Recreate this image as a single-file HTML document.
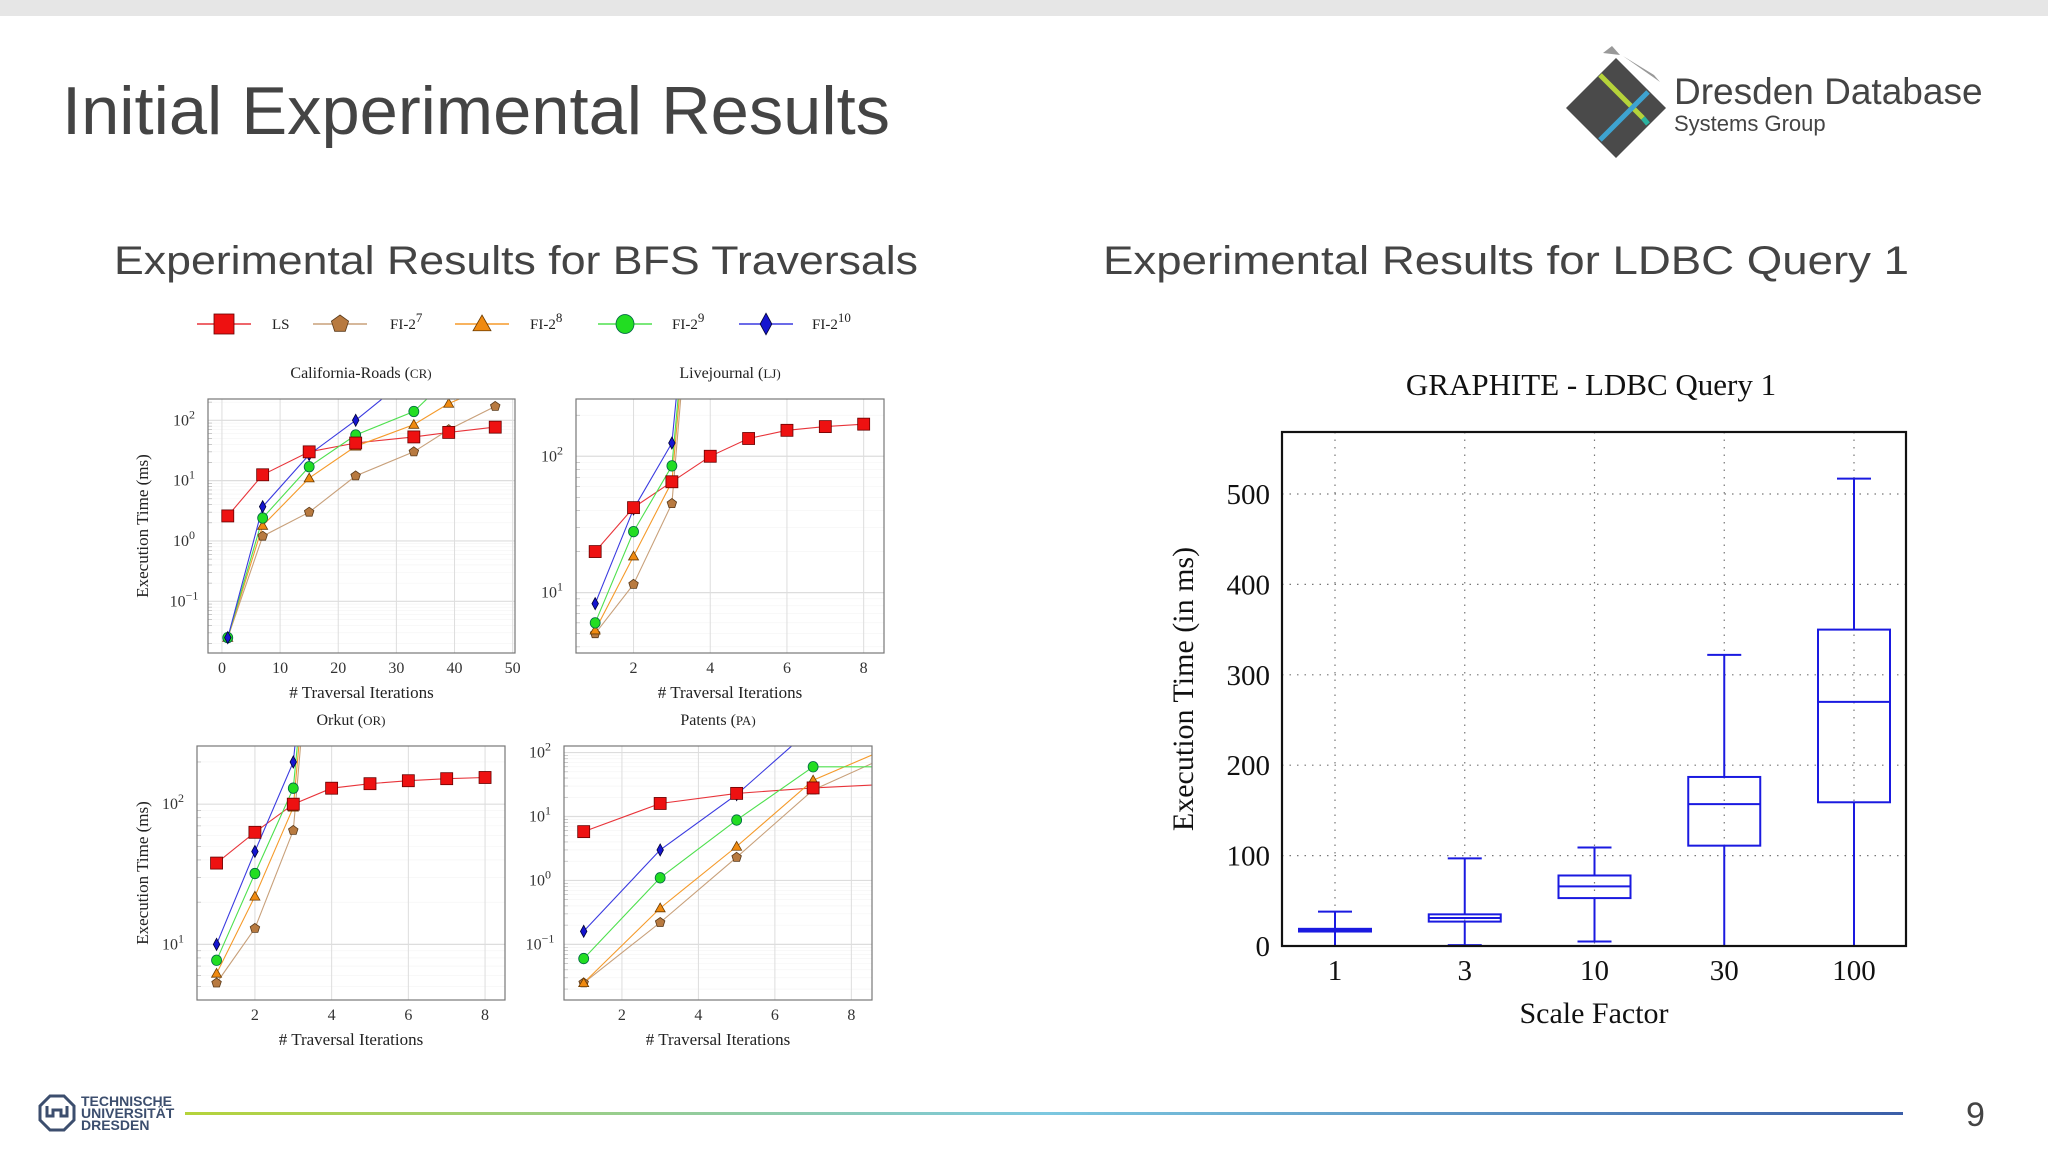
<!DOCTYPE html>
<html><head><meta charset="utf-8"><style>
html,body{margin:0;padding:0;background:#fff;}
svg{display:block;}
</style></head><body>
<svg id="s" width="2048" height="1152" viewBox="0 0 2048 1152" xmlns="http://www.w3.org/2000/svg">
<defs>
<linearGradient id="fg" x1="0" x2="1" y1="0" y2="0">
<stop offset="0" stop-color="#b5d33a"/><stop offset="0.5" stop-color="#7cc8e0"/><stop offset="1" stop-color="#3b5ea8"/>
</linearGradient>
</defs>
<rect x="0" y="0" width="2048" height="16" fill="#e6e6e6"/>
<text x="62" y="134" font-family="Liberation Sans, sans-serif" font-size="68" fill="#444" textLength="828" lengthAdjust="spacingAndGlyphs">Initial Experimental Results</text>
<g>
<polygon points="1616,58 1666,108 1616,158 1566,108" fill="#4a4a4a"/>
<polygon points="1603,53 1612,46 1620,55" fill="#999"/>
<polygon points="1623,56 1654,75 1660,82" fill="#999"/>
<line x1="1600" y1="75" x2="1643" y2="118" stroke="#b5d33a" stroke-width="5"/>
<line x1="1643" y1="118" x2="1648" y2="124" stroke="#2bb3a0" stroke-width="5"/>
<line x1="1600" y1="140" x2="1648" y2="92" stroke="#3ea3d0" stroke-width="5"/>
<text x="1674" y="104" font-family="Liberation Sans, sans-serif" font-size="37" fill="#444">Dresden Database</text>
<text x="1674" y="131" font-family="Liberation Sans, sans-serif" font-size="22" fill="#444">Systems Group</text>
</g>
<text x="114" y="274" font-family="Liberation Sans, sans-serif" font-size="40" fill="#444" textLength="804" lengthAdjust="spacingAndGlyphs">Experimental Results for BFS Traversals</text>
<text x="1103" y="274" font-family="Liberation Sans, sans-serif" font-size="40" fill="#444" textLength="806" lengthAdjust="spacingAndGlyphs">Experimental Results for LDBC Query 1</text>
<g>
<polygon points="50,1096 64,1096 74,1106 74,1120 64,1130 50,1130 40,1120 40,1106" fill="none" stroke="#3c4e6e" stroke-width="3"/>
<path d="M47,1106 v10 h6 v-6 h8 v6 h6 v-10" fill="none" stroke="#3c4e6e" stroke-width="3"/>
<text x="81" y="1106" font-family="Liberation Sans, sans-serif" font-weight="bold" font-size="14" fill="#3c4e6e">TECHNISCHE</text>
<text x="81" y="1118" font-family="Liberation Sans, sans-serif" font-weight="bold" font-size="14" fill="#3c4e6e">UNIVERSITÄT</text>
<text x="81" y="1130" font-family="Liberation Sans, sans-serif" font-weight="bold" font-size="14" fill="#3c4e6e">DRESDEN</text>
</g>
<rect x="185" y="1112" width="1718" height="3" fill="url(#fg)"/>
<text x="1966" y="1126" font-family="Liberation Sans, sans-serif" font-size="34" fill="#444">9</text>
</svg>
<script>
// ---- BFS data ----
const seriesNames = ["LS","FI-2^7","FI-2^8","FI-2^9","FI-2^10"];
const crX = [1,7,15,23,33,39,47];
const crLS = [2.6,12.5,30,42,53,63,77];
const crF7 = [0.025,1.2,3,12,30,70,170];
const crF8 = [0.025,1.8,11,37,85,190,400];
const crF9 = [0.025,2.4,17,57,140,500,null];
const crF10 = [0.025,3.7,27,100,600,null,null];
const ljX = [1,2,3,4,5,6,7,8];
const ljLS = [20,42,65,100,135,155,165,172];
const ljF7 = [5,11.5,45,100000,null,null,null,null];
const ljF8 = [5.3,18.5,65,100000,null,null,null,null];
const ljF9 = [6,28,85,100000,null,null,null,null];
const ljF10 = [8.3,41,125,100000,null,null,null,null];
const orX = [1,2,3,4,5,6,7,8];
const orLS = [38,63,100,130,140,147,152,155];
const orF7 = [5.3,13,65,100000,null,null,null,null];
const orF8 = [6.2,22,95,100000,null,null,null,null];
const orF9 = [7.7,32,130,100000,null,null,null,null];
const orF10 = [10,46,200,100000,null,null,null,null];
const paX = [1,3,5,7,9];
const paLS = [5.8,16,23,28,32];
const paF7 = [0.025,0.22,2.3,26,90];
const paF8 = [0.025,0.37,3.4,37,120];
const paF9 = [0.06,1.1,8.8,60,60];
const paF10 = [0.16,3,22,250,null];
// ---- LDBC box data ----
const sfCats = ["1","3","10","30","100"];
const boxMin = [0,1,5,0,0];
const boxQ1 = [16,27,53,111,159];
const boxMed = [17.5,31,66,157,270];
const boxQ3 = [19,35,78,187,350];
const boxMax = [38,97,109,322,517];
const yTicks = [0,100,200,300,400,500];

const NS="http://www.w3.org/2000/svg";
const svg=document.getElementById('s');
function el(tag,attrs,parent){const e=document.createElementNS(NS,tag);for(const k in attrs)e.setAttribute(k,attrs[k]);(parent||svg).appendChild(e);return e;}
const colors=["#e8343a","#c8a07a","#f59a2a","#4ee04e","#3a3ae0"];
const fills=["#ee1111","#b87a40","#f08a10","#22dd22","#1515d0"];
const SERIF="Liberation Serif, serif";

function marker(g,type,x,y,s){
  let m;
  if(type===0) m=el('rect',{x:x-s,y:y-s,width:2*s,height:2*s,fill:fills[0],stroke:"#600",'stroke-width':0.8},g);
  else if(type===1){let p=[];for(let i=0;i<5;i++){const a=-Math.PI/2+i*2*Math.PI/5;p.push((x+s*Math.cos(a)).toFixed(1)+","+(y+s*Math.sin(a)).toFixed(1));}m=el('polygon',{points:p.join(' '),fill:fills[1],stroke:"#5a3a1a",'stroke-width':0.8},g);}
  else if(type===2) m=el('polygon',{points:`${x},${y-s} ${x+s},${y+s*0.75} ${x-s},${y+s*0.75}`,fill:fills[2],stroke:"#6a3a00",'stroke-width':0.8},g);
  else if(type===3) m=el('ellipse',{cx:x,cy:y,rx:s,ry:s*1.05,fill:fills[3],stroke:"#064",'stroke-width':0.8},g);
  else m=el('polygon',{points:`${x},${y-s*1.2} ${x+s*0.65},${y} ${x},${y+s*1.2} ${x-s*0.65},${y}`,fill:fills[4],stroke:"#003",'stroke-width':0.8},g);
  return m;
}

// legend
const lg=el('g',{});


const legX=[224,340,482,625,766], legLX=[272,390,530,672,812];
const legLabels=[["LS",""],["FI-2","7"],["FI-2","8"],["FI-2","9"],["FI-2","10"]];
for(let i=0;i<5;i++){
  const g=el('g',{},lg);
  
  
  el('line',{x1:legX[i]-27,y1:324,x2:legX[i]+27,y2:324,stroke:colors[i],'stroke-width':1.5},g);
  marker(g,i,legX[i],324,i===0?10:9);
  const t=el('text',{x:legLX[i],y:329,'font-family':SERIF,'font-size':15,fill:'#222'},g);
  t.textContent=legLabels[i][0];
  if(legLabels[i][1]){const sp=el('tspan',{dy:-7,'font-size':13},t);sp.textContent=legLabels[i][1];}
}

function panel(cfg){
  const g=el('g',{});
  
  
  const {L,R,T,B,xmin,xmax,lmin,lmax}=cfg;
  const sx=v=>L+(v-xmin)/(xmax-xmin)*(R-L);
  const sy=v=>B-(Math.log10(v)-lmin)/(lmax-lmin)*(B-T);
  const cid='clip-'+cfg.name;
  const cp=el('clipPath',{id:cid},g);el('rect',{x:L,y:T,width:R-L,height:B-T},cp);
  for(let e=Math.floor(lmin);e<=Math.ceil(lmax);e++){
    for(let k=2;k<10;k++){const v=k*Math.pow(10,e);const lv=Math.log10(v);if(lv>lmin&&lv<lmax){el('line',{x1:L,x2:R,y1:sy(v),y2:sy(v),stroke:'#f3f3f3','stroke-width':0.6},g);el('line',{x1:L,x2:L+4,y1:sy(v),y2:sy(v),stroke:'#aaa','stroke-width':0.6},g);}}
  }
  cfg.xticks.forEach(v=>{el('line',{x1:sx(v),x2:sx(v),y1:T,y2:B,stroke:'#ddd','stroke-width':1},g);
    const t=el('text',{x:sx(v),y:B+20,'text-anchor':'middle','font-family':SERIF,'font-size':16,fill:'#333'},g);t.textContent=v;});
  cfg.yexp.forEach(e=>{const y=sy(Math.pow(10,e));el('line',{x1:L,x2:R,y1:y,y2:y,stroke:'#ddd','stroke-width':1.2},g);
    const t=el('text',{x:L-24,y:y+5,'text-anchor':'middle','font-family':SERIF,'font-size':16,fill:'#333'},g);t.textContent='10';
    const sp=el('tspan',{dy:-7,'font-size':12},t);sp.textContent=String(e).replace('-','−');});
  const dg=el('g',{'clip-path':`url(#${cid})`},g);
  cfg.series.forEach((ys,si)=>{
    const pts=[];cfg.xs.forEach((x,i)=>{if(ys[i]!=null)pts.push(sx(x).toFixed(1)+','+sy(ys[i]).toFixed(1));});
    const sg=el('g',{},dg);
    
    
    el('polyline',{points:pts.join(' '),fill:'none',stroke:colors[si],'stroke-width':1.1},sg);
  });
  [1,2,3,4,0].forEach(si=>{const ys=cfg.series[si];cfg.xs.forEach((x,i)=>{if(ys[i]!=null){const y=sy(ys[i]);if(y>=T-2&&y<=B+2){const m=marker(dg,si,sx(x),y,si===0?6:5);
    
    }}});});
  el('rect',{x:L,y:T,width:R-L,height:B-T,fill:'none',stroke:'#777','stroke-width':1.2},g);
  const tt=el('text',{x:cfg.tx,y:T-21,'text-anchor':'middle','font-family':SERIF,'font-size':16,fill:'#222'},g);tt.textContent=cfg.title[0];
  const ts=el('tspan',{'font-size':13},tt);ts.textContent=cfg.title[1];
  const xl=el('text',{x:(L+R)/2,y:B+45,'text-anchor':'middle','font-family':SERIF,'font-size':17,fill:'#222'},g);xl.textContent='# Traversal Iterations';
  if(cfg.ylab){const yl=el('text',{x:0,y:0,transform:`translate(148,${(T+B)/2}) rotate(-90)`,'text-anchor':'middle','font-family':SERIF,'font-size':17,fill:'#222'},g);yl.textContent='Execution Time (ms)';}
}
panel({name:'cr-chart',L:208,R:515,T:399,B:653,xmin:-2.4,xmax:50.4,lmin:-1.857,lmax:2.353,xticks:[0,10,20,30,40,50],yexp:[-1,0,1,2],xs:crX,series:[crLS,crF7,crF8,crF9,crF10],tx:361,title:['California-Roads (','CR)'],ylab:true});
panel({name:'lj-chart',L:576,R:884,T:399,B:653,xmin:0.5,xmax:8.53,lmin:0.557,lmax:2.42,xticks:[2,4,6,8],yexp:[1,2],xs:ljX,series:[ljLS,ljF7,ljF8,ljF9,ljF10],tx:730,title:['Livejournal (','LJ)'],ylab:false});
panel({name:'or-chart',L:197,R:505,T:746,B:1000,xmin:0.49,xmax:8.52,lmin:0.603,lmax:2.415,xticks:[2,4,6,8],yexp:[1,2],xs:orX,series:[orLS,orF7,orF8,orF9,orF10],tx:351,title:['Orkut (','OR)'],ylab:true});
panel({name:'pa-chart',L:564,R:872,T:746,B:1000,xmin:0.485,xmax:8.54,lmin:-1.87,lmax:2.103,xticks:[2,4,6,8],yexp:[-1,0,1,2],xs:paX,series:[paLS,paF7,paF8,paF9,paF10],tx:718,title:['Patents (','PA)'],ylab:false});

// ---- box plot ----
(function(){
  const g=el('g',{});
  
  
  const L=1282,R=1906,T=432,B=946,ymax=568.6;
  const sy=v=>B-v/ymax*(B-T);
  const sx=i=>1335+i*129.75;
  yTicks.forEach(v=>{const y=sy(v);
    if(v>0)el('line',{x1:L,x2:R,y1:y,y2:y,stroke:'#777','stroke-width':1.2,'stroke-dasharray':'1.5 6'},g);
    const t=el('text',{x:L-12,y:y+10,'text-anchor':'end','font-family':SERIF,'font-size':29,fill:'#111'},g);t.textContent=v;});
  sfCats.forEach((c,i)=>{const x=sx(i);
    el('line',{x1:x,x2:x,y1:T,y2:B,stroke:'#777','stroke-width':1.2,'stroke-dasharray':'1.5 6'},g);
    const t=el('text',{x:x,y:980,'text-anchor':'middle','font-family':SERIF,'font-size':29,fill:'#111'},g);t.textContent=c;});
  sfCats.forEach((c,i)=>{const x=sx(i);const bg=el('g',{},g);
    
    
    const st={stroke:'#1a1ae0','stroke-width':2,fill:'none'};
    el('line',Object.assign({x1:x,x2:x,y1:sy(boxMax[i]),y2:sy(boxQ3[i])},st),bg);
    el('line',Object.assign({x1:x,x2:x,y1:sy(boxQ1[i]),y2:sy(boxMin[i])},st),bg);
    el('line',Object.assign({x1:x-17,x2:x+17,y1:sy(boxMax[i]),y2:sy(boxMax[i])},st),bg);
    el('line',Object.assign({x1:x-17,x2:x+17,y1:sy(boxMin[i]),y2:sy(boxMin[i])},st),bg);
    el('rect',Object.assign({x:x-36,y:sy(boxQ3[i]),width:72,height:sy(boxQ1[i])-sy(boxQ3[i])},st),bg);
    el('line',Object.assign({x1:x-36,x2:x+36,y1:sy(boxMed[i]),y2:sy(boxMed[i])},st),bg);
  });
  el('rect',{x:L,y:T,width:R-L,height:B-T,fill:'none',stroke:'#111','stroke-width':2.2},g);
  const t=el('text',{x:1591,y:395,'text-anchor':'middle','font-family':SERIF,'font-size':31,fill:'#111'},g);t.textContent='GRAPHITE - LDBC Query 1';
  const xl=el('text',{x:1594,y:1023,'text-anchor':'middle','font-family':SERIF,'font-size':30,fill:'#111'},g);xl.textContent='Scale Factor';
  const yl=el('text',{transform:'translate(1193,689) rotate(-90)','text-anchor':'middle','font-family':SERIF,'font-size':30,fill:'#111'},g);yl.textContent='Execution Time (in ms)';
})();
</script>
</body></html>
